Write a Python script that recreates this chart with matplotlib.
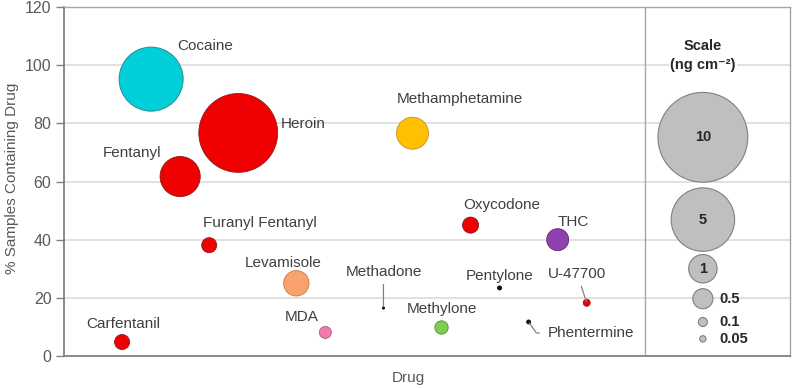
import matplotlib
matplotlib.use("Agg")
import matplotlib.pyplot as plt

plt.rcParams['font.family'] = ['Liberation Sans', 'DejaVu Sans']

# ---- data ----
drugs = ["Carfentanil", "Cocaine", "Fentanyl", "Furanyl Fentanyl", "Heroin",
         "Levamisole", "MDA", "Methadone", "Methamphetamine", "Methylone",
         "Oxycodone", "Pentylone", "Phentermine", "THC", "U-47700"]
x_pos = [2, 3, 4, 5, 6, 8, 9, 11, 12, 13, 14, 15, 16, 17, 18]
pct = [4.8, 95.2, 61.7, 38.1, 76.7, 25.0, 8.1, 16.5, 76.6, 9.8, 45.0, 23.4, 11.7, 40.0, 18.3]
amount = [0.28, 5.1, 2.0, 0.28, 7.7, 0.8, 0.18, 0.006, 1.27, 0.22, 0.32, 0.02, 0.02, 0.6, 0.06]
colors = ["#F00000", "#00CED9", "#F00000", "#F00000", "#F00000",
          "#F9A26C", "#F07CAB", "#202020", "#FFC000", "#7DCE4E",
          "#F00000", "#101010", "#202020", "#9040B0", "#F00000"]
edges = ["#8B1A1A", "#2F7F86", "#8B1A1A", "#8B1A1A", "#8B1A1A",
         "#C07A4A", "#B05A80", "#000000", "#C09030", "#4E8A30",
         "#8B1A1A", "#000000", "#000000", "#5A2A70", "#8B1A1A"]

# label offsets (pixels) and alignment
label_off = {
    "Carfentanil": (1, 18, "center"),
    "Cocaine": (26, 33, "left"),
    "Fentanyl": (-19, 24, "right"),
    "Furanyl Fentanyl": (-6.5, 22.5, "left"),
    "Heroin": (42.5, 8.5, "left"),
    "Levamisole": (-13, 20.5, "center"),
    "MDA": (-23.5, 15.5, "center"),
    "Methadone": (0, 36, "center"),
    "Methamphetamine": (-16, 34, "left"),
    "Methylone": (0, 18.5, "center"),
    "Oxycodone": (31.5, 20.5, "center"),
    "Pentylone": (0, 12, "center"),
    "Phentermine": (19, -11, "left"),
    "THC": (15.5, 18, "center"),
    "U-47700": (-9.5, 29, "center"),
}

scale_vals = [10, 5, 1, 0.5, 0.1, 0.05]
scale_labels = ["10", "5", "1", "0.5", "0.1", "0.05"]
scale_y = [75.2, 46.9, 30.0, 19.7, 11.7, 5.9]
scale_x = 22

yticks = [0, 20, 40, 60, 80, 100, 120]

SIZE_K = 418  # points^2 per ng cm^-2

fig = plt.figure(figsize=(8, 3.88), dpi=100)
ax = fig.add_axes([64/800, 32/388, 726/800, 349/388])
ax.set_xlim(0, 25)
ax.set_ylim(0, 120)

for yv in yticks[1:-1]:
    ax.axhline(yv, color="#D9D9D9", lw=1.1, zorder=0)
ax.axvline(20, color="#A6A6A6", lw=1.0, zorder=1)

ax.scatter(x_pos, pct, s=[a * SIZE_K for a in amount], c=colors,
           edgecolors=edges, linewidths=0.6, zorder=3)

txtc = "#404040"
for name, xv, yv in zip(drugs, x_pos, pct):
    dx, dy, ha = label_off[name]
    kw = {}
    if name in ("Methadone", "U-47700"):
        kw["arrowprops"] = dict(arrowstyle="-", color="#808080", lw=0.9,
                                shrinkA=2, shrinkB=1)
    if name == "Phentermine":
        kw["arrowprops"] = dict(arrowstyle="-", color="#808080", lw=0.9,
                                relpos=(0, 0.5), shrinkA=4, shrinkB=1,
                                connectionstyle="angle,angleA=0,angleB=-55,rad=0")
    ax.annotate(name, xy=(xv, yv), xytext=(dx, dy), textcoords="offset pixels",
                ha=ha, va="center", fontsize=11, color=txtc, zorder=4, **kw)

# scale panel
ax.scatter([scale_x] * len(scale_vals), scale_y, s=[v * SIZE_K for v in scale_vals],
           c="#BFBFBF", edgecolors="#808080", linewidths=0.8, zorder=3)
for v, lab, yv in zip(scale_vals, scale_labels, scale_y):
    if v >= 1:
        ax.text(scale_x, yv, lab, ha="center", va="center", fontsize=10.5,
                fontweight="bold", color="#262626", zorder=4)
    else:
        ax.annotate(lab, xy=(scale_x, yv), xytext=(16, 0), textcoords="offset pixels",
                    ha="left", va="center", fontsize=10.5, fontweight="bold",
                    color="#262626", zorder=4)
ax.text(scale_x, 106.5, "Scale", ha="center", va="center", fontsize=10.5,
        fontweight="bold", color="#262626", zorder=4)
ax.text(scale_x, 100, "(ng cm\u207b\u00b2)", ha="center", va="center", fontsize=10.5,
        fontweight="bold", color="#262626", zorder=4,
        bbox=dict(facecolor="white", edgecolor="none", pad=1))

ax.set_yticks(yticks)
ax.set_yticklabels([str(t) for t in yticks])
ax.set_xticks([])
ax.tick_params(axis="y", direction="out", length=6, width=1, color="#808080",
               labelsize=11.5, labelcolor="#595959", pad=3)
for side in ("left", "bottom"):
    ax.spines[side].set_color("#808080")
    ax.spines[side].set_linewidth(1.3)
for side in ("top", "right"):
    ax.spines[side].set_color("#A6A6A6")
    ax.spines[side].set_linewidth(1.0)

fig.text(12/800, 1 - 178/388, "% Samples Containing Drug", rotation=90,
         ha="center", va="center", fontsize=11, color="#595959")
fig.text(408/800, 1 - 378/388, "Drug", ha="center", va="center",
         fontsize=11, color="#595959")

fig.savefig("out.png", dpi=100)
